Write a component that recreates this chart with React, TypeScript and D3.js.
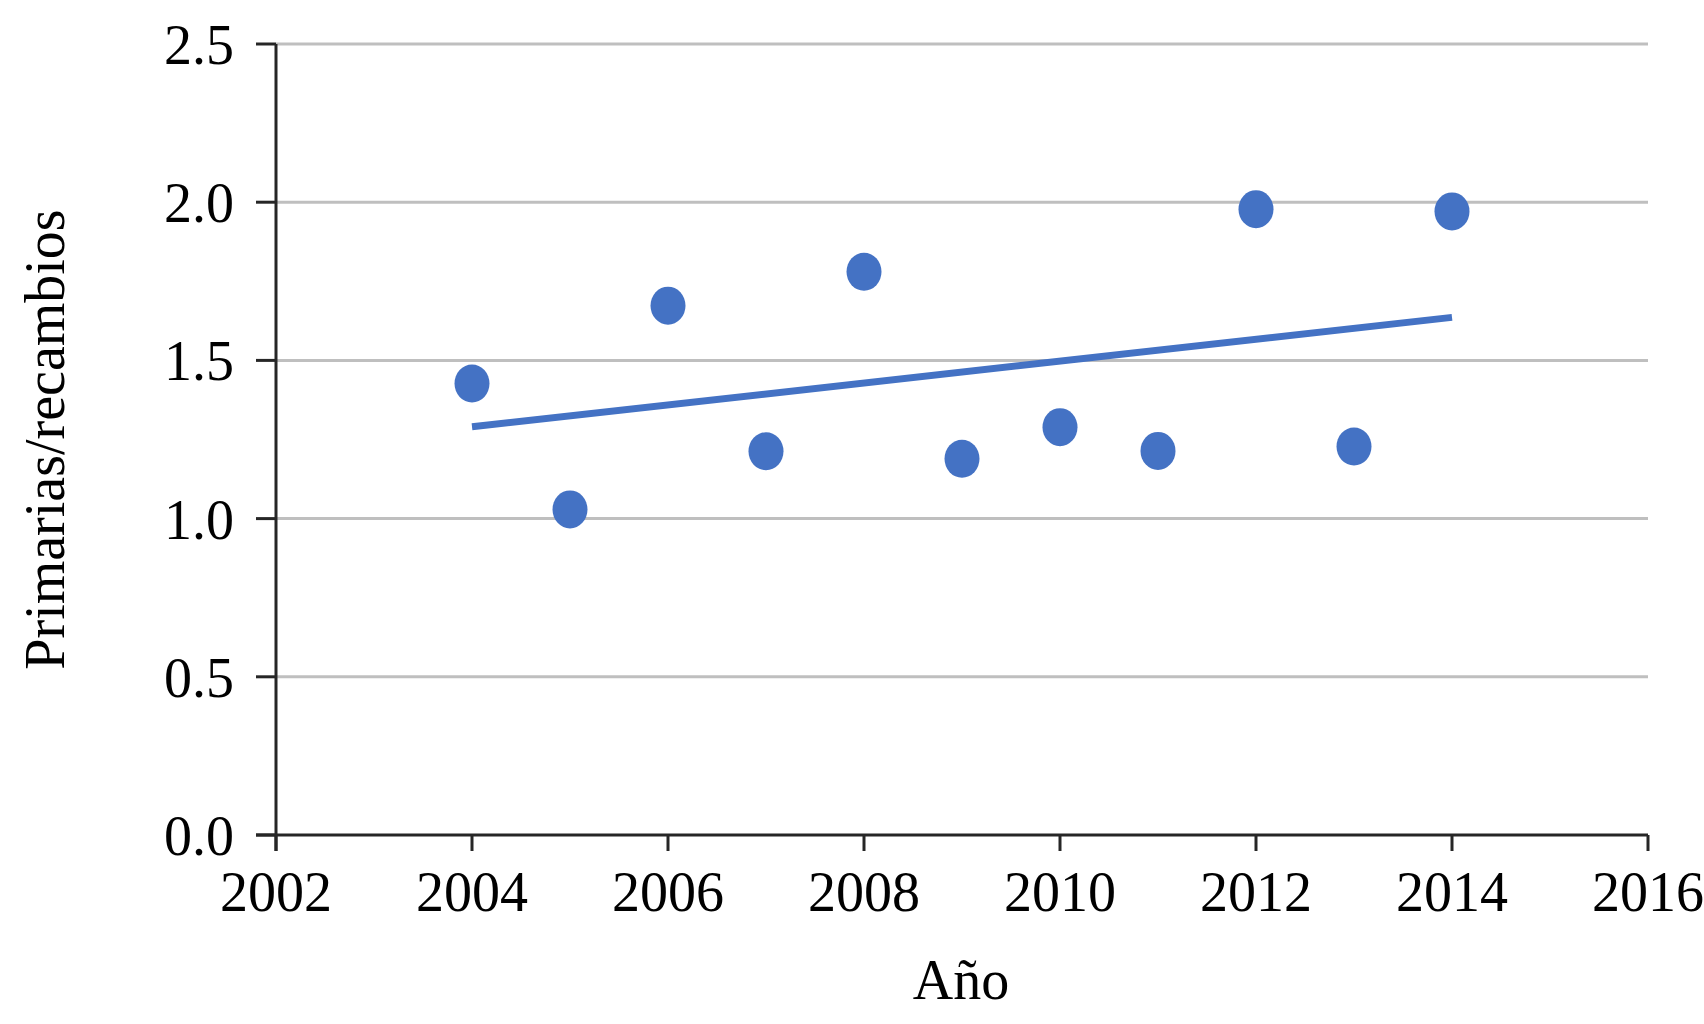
import React, { useEffect, useRef } from "react";
import * as d3 from "d3";

const years = [2004, 2005, 2006, 2007, 2008, 2009, 2010, 2011, 2012, 2013, 2014];
const ratios = [1.427, 1.029, 1.673, 1.213, 1.78, 1.189, 1.289, 1.214, 1.978, 1.228, 1.971];
const trendYears = [2004, 2014];
const trendValues = [1.29, 1.636];
const xTicks = [2002, 2004, 2006, 2008, 2010, 2012, 2014, 2016];
const yTicks = [0, 0.5, 1.0, 1.5, 2.0, 2.5];
const xTitle = "Año";
const yTitle = "Primarias/recambios";

const W = 1704;
const H = 1024;
const FONT = "'Liberation Serif', 'Times New Roman', serif";
const BLUE = "#4472c4";

export default function App() {
  const ref = useRef<SVGSVGElement | null>(null);

  useEffect(() => {
    document.body.style.margin = "0";
    const svg = d3.select(ref.current);
    svg.selectAll("*").remove();

    const x = d3.scaleLinear().domain([2002, 2016]).range([276, 1648]);
    const y = d3.scaleLinear().domain([0, 2.5]).range([835, 44]);

    // gridlines
    svg
      .append("g")
      .selectAll("line")
      .data(yTicks.filter((t) => t > 0))
      .join("line")
      .attr("x1", x(2002))
      .attr("x2", x(2016))
      .attr("y1", (d) => y(d))
      .attr("y2", (d) => y(d))
      .attr("stroke", "#bfbfbf")
      .attr("stroke-width", 3);

    // y axis
    const gy = svg.append("g");
    gy.append("line")
      .attr("x1", x(2002))
      .attr("x2", x(2002))
      .attr("y1", y(2.5))
      .attr("y2", y(0) + 16)
      .attr("stroke", "#262626")
      .attr("stroke-width", 3);
    gy.selectAll("line.tick")
      .data(yTicks)
      .join("line")
      .attr("class", "tick")
      .attr("x1", x(2002) - 20)
      .attr("x2", x(2002))
      .attr("y1", (d) => y(d))
      .attr("y2", (d) => y(d))
      .attr("stroke", "#262626")
      .attr("stroke-width", 3);
    gy.selectAll("text")
      .data(yTicks)
      .join("text")
      .attr("x", x(2002) - 42)
      .attr("y", (d) => y(d) + 20)
      .attr("text-anchor", "end")
      .attr("font-family", FONT)
      .attr("font-size", 56)
      .attr("fill", "#000")
      .text((d) => d3.format(".1f")(d));

    // x axis
    const gx = svg.append("g");
    gx.append("line")
      .attr("x1", x(2002) - 20)
      .attr("x2", x(2016))
      .attr("y1", y(0))
      .attr("y2", y(0))
      .attr("stroke", "#262626")
      .attr("stroke-width", 3);
    gx.selectAll("line.tick")
      .data(xTicks)
      .join("line")
      .attr("class", "tick")
      .attr("x1", (d) => x(d))
      .attr("x2", (d) => x(d))
      .attr("y1", y(0))
      .attr("y2", y(0) + 16)
      .attr("stroke", "#262626")
      .attr("stroke-width", 3);
    gx.selectAll("text")
      .data(xTicks)
      .join("text")
      .attr("x", (d) => x(d))
      .attr("y", 911)
      .attr("text-anchor", "middle")
      .attr("font-family", FONT)
      .attr("font-size", 56)
      .attr("fill", "#000")
      .text((d) => String(d));

    // trendline
    const trend: [number, number][] = trendYears.map((yr, i) => [yr, trendValues[i]]);
    svg
      .append("path")
      .datum(trend)
      .attr(
        "d",
        d3
          .line<[number, number]>()
          .x((d) => x(d[0]))
          .y((d) => y(d[1]))
      )
      .attr("fill", "none")
      .attr("stroke", BLUE)
      .attr("stroke-width", 7);

    // points
    svg
      .append("g")
      .selectAll("ellipse")
      .data(years.map((yr, i) => ({ yr, v: ratios[i] })))
      .join("ellipse")
      .attr("cx", (d) => x(d.yr))
      .attr("cy", (d) => y(d.v))
      .attr("rx", 17.5)
      .attr("ry", 19)
      .attr("fill", BLUE);

    // titles
    svg
      .append("text")
      .attr("x", 961)
      .attr("y", 999)
      .attr("text-anchor", "middle")
      .attr("font-family", FONT)
      .attr("font-size", 56)
      .attr("fill", "#000")
      .text(xTitle);
    svg
      .append("text")
      .attr("transform", `translate(64, ${(y(0) + y(2.5)) / 2}) rotate(-90)`)
      .attr("text-anchor", "middle")
      .attr("font-family", FONT)
      .attr("font-size", 56)
      .attr("fill", "#000")
      .text(yTitle);
  }, []);

  return (
    <svg
      ref={ref}
      width={W}
      height={H}
      style={{ position: "absolute", left: 0, top: 0, background: "#fff", display: "block" }}
    />
  );
}
